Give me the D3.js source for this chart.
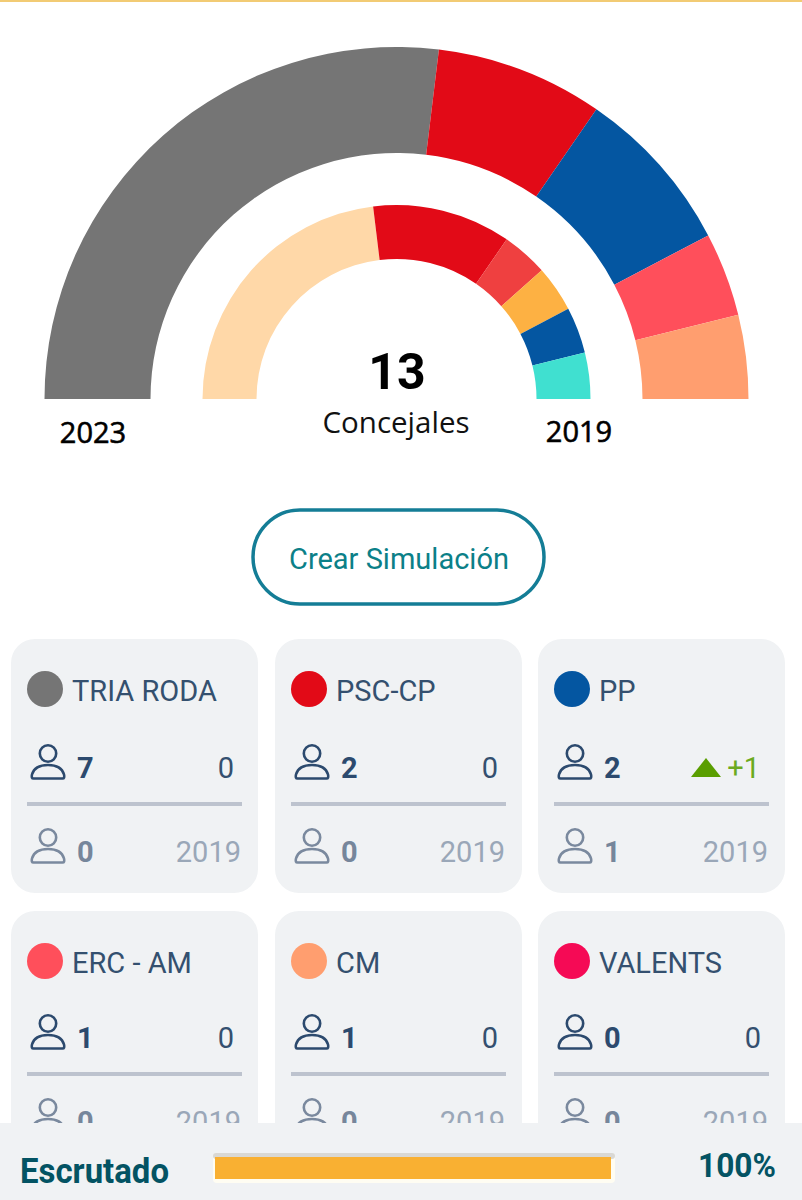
<!DOCTYPE html>
<html>
<head>
<meta charset="utf-8">
<script src="https://cdn.jsdelivr.net/npm/d3@7"></script>
<style>
html,body{margin:0;padding:0;background:#fff;overflow:hidden}
svg{display:block}
text{font-family:Roboto,sans-serif}
</style>
</head>
<body>
<div id="chart"></div>
<script>
// hemiciclo
var seats2023 = [7, 2, 2, 1, 1];
var colors2023 = ['#757575', '#e20a17', '#0456a1', '#ff4f5b', '#ff9e6f'];
var seats2019 = [6, 3, 1, 1, 1, 1];
var colors2019 = ['#ffd8a8', '#e20a17', '#ef4040', '#fdb143', '#0456a1', '#40e0d0'];
var totalSeats = 13;

// tarjetas
var parties = ['TRIA RODA', 'PSC-CP', 'PP', 'ERC - AM', 'CM', 'VALENTS'];
var partyColors = ['#757575', '#e20a17', '#0456a1', '#ff4f5b', '#ff9e6f', '#f50a55'];
var partySeats = [7, 2, 2, 1, 1, 0];
var partyDiff = [0, 0, 1, 0, 0, 0];
var partyPrev = [0, 0, 1, 0, 0, 0];
var prevYear = '2019';

var scrutinized = 100;

var svg = d3.select('#chart').append('svg').attr('width', 802).attr('height', 1200);

svg.append('rect').attr('width', 802).attr('height', 2).attr('fill', '#f2cb74');

var pie = d3.pie().sort(null).startAngle(-Math.PI / 2).endAngle(Math.PI / 2);

function drawRing(values, colors, inner, outer) {
  var arc = d3.arc().innerRadius(inner).outerRadius(outer);
  svg.append('g').attr('transform', 'translate(396.5,399)')
    .selectAll('path').data(pie(values)).join('path')
    .attr('d', arc)
    .attr('fill', function(d, i) { return colors[i]; });
}
drawRing(seats2023, colors2023, 246, 352);
drawRing(seats2019, colors2019, 140, 194);

svg.append('text').attr('x', 397).attr('y', 389).attr('text-anchor', 'middle')
  .attr('font-size', 50).attr('font-weight', 700).attr('fill', '#000').text(totalSeats);
svg.append('text').attr('x', 396).attr('y', 433).attr('text-anchor', 'middle')
  .style('font-family', '"Open Sans"').attr('font-size', 29.5).attr('fill', '#111').text('Concejales');
svg.append('text').attr('x', 93).attr('y', 443).attr('text-anchor', 'middle')
  .style('font-family', '"Open Sans"').attr('font-size', 29).attr('stroke', '#000').attr('stroke-width', 0.6).attr('fill', '#000').text('2023');
svg.append('text').attr('x', 579).attr('y', 442).attr('text-anchor', 'middle')
  .style('font-family', '"Open Sans"').attr('font-size', 29).attr('stroke', '#000').attr('stroke-width', 0.6).attr('fill', '#000').text('2019');

// boton
svg.append('rect').attr('x', 253).attr('y', 510).attr('width', 291).attr('height', 94).attr('rx', 47)
  .attr('fill', '#fff').attr('stroke', '#147d96').attr('stroke-width', 3.5);
svg.append('text').attr('x', 399).attr('y', 569).attr('text-anchor', 'middle')
  .attr('font-size', 29).attr('fill', '#0b8088').text('Crear Simulación');

function person(g, x, y, color) {
  var p = g.append('g').attr('transform', 'translate(' + x + ',' + y + ')')
    .attr('fill', 'none').attr('stroke', color).attr('stroke-width', 2.6);
  p.append('circle').attr('cx', 0).attr('cy', 0).attr('r', 8.2);
  p.append('path').attr('stroke-linejoin', 'round')
    .attr('d', 'M-14.5,25 Q-17,25 -16,21 C-14,14 -7,11.5 0,11.5 C7,11.5 14,14 16,21 Q17,25 14.5,25 Z');
}

var colX = [11, 275, 538];
var rowY = [639, 911];
var rowShift = [0, -2];

parties.forEach(function(name, i) {
  var col = i % 3, row = Math.floor(i / 3);
  var x = colX[col], y = rowY[row], c = y + rowShift[row];
  var g = svg.append('g');
  g.append('rect').attr('x', x).attr('y', y).attr('width', 247).attr('height', 254).attr('rx', 24).attr('fill', '#f0f2f4');
  g.append('circle').attr('cx', x + 34).attr('cy', y + 50).attr('r', 18).attr('fill', partyColors[i]);
  g.append('text').attr('x', x + 61).attr('y', y + 61.5).attr('font-size', 29).attr('fill', '#34506f').text(name);

  person(g, x + 37, c + 114.5, '#2c4a6e');
  g.append('text').attr('x', x + 66).attr('y', c + 139).attr('font-size', 29).attr('font-weight', 700).attr('fill', '#2c4a6e').text(partySeats[i]);
  if (partyDiff[i] > 0) {
    g.append('path').attr('fill', '#5a9e00')
      .attr('d', d3.line()([[x + 153, c + 138], [x + 168, c + 119], [x + 183, c + 138]]) + 'Z');
    g.append('text').attr('x', x + 222).attr('y', c + 139).attr('text-anchor', 'end').attr('font-size', 29).attr('fill', '#6baa20').text('+' + partyDiff[i]);
  } else {
    g.append('text').attr('x', x + 223).attr('y', c + 139).attr('text-anchor', 'end').attr('font-size', 29).attr('fill', '#34506f').text(partyDiff[i]);
  }
  g.append('rect').attr('x', x + 16).attr('y', c + 163).attr('width', 215).attr('height', 4).attr('fill', '#bdc3ce');

  person(g, x + 37, c + 198.5, '#7a899e');
  g.append('text').attr('x', x + 66).attr('y', c + 223).attr('font-size', 29).attr('font-weight', 700).attr('fill', '#76869b').text(partyPrev[i]);
  g.append('text').attr('x', x + 230).attr('y', c + 223).attr('text-anchor', 'end').attr('font-size', 29).attr('fill', '#9aa7b8').text(prevYear);
});

// barra inferior
svg.append('rect').attr('x', 0).attr('y', 1123).attr('width', 802).attr('height', 77).attr('fill', '#f0f2f4');
svg.append('text').attr('x', 20).attr('y', 1182.5).attr('font-size', 35).attr('font-weight', 700).attr('fill', '#035363')
  .attr('textLength', 149).attr('lengthAdjust', 'spacingAndGlyphs').text('Escrutado');

var progress = d3.scaleLinear().domain([0, 100]).range([215, 611]);
svg.append('rect').attr('x', 213).attr('y', 1153).attr('width', 402).attr('height', 30).attr('rx', 4).attr('fill', '#fffdf2');
svg.append('rect').attr('x', 213).attr('y', 1153).attr('width', 402).attr('height', 6).attr('rx', 3).attr('fill', '#d9d8d4');
svg.append('rect').attr('x', progress(0)).attr('y', 1157).attr('width', progress(scrutinized) - progress(0)).attr('height', 22).attr('fill', '#f9b032');

svg.append('text').attr('x', 776).attr('y', 1177).attr('text-anchor', 'end').attr('font-size', 33).attr('font-weight', 700).attr('fill', '#035363')
  .attr('textLength', 78).attr('lengthAdjust', 'spacingAndGlyphs').text(scrutinized + '%');
</script>
</body>
</html>
